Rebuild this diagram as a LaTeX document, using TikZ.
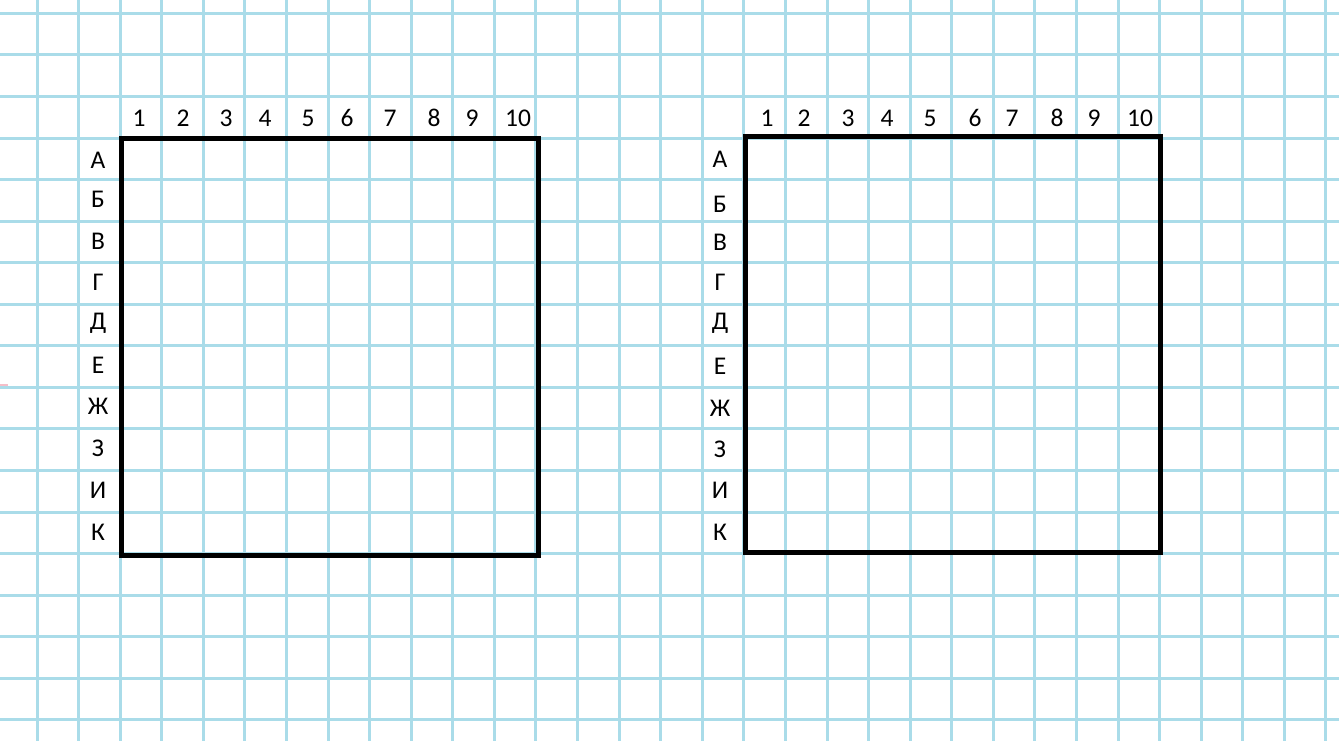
\documentclass[tikz,border=0pt]{standalone}
\usepackage{fontspec}
\setmainfont{Carlito}
\definecolor{gridblue}{RGB}{170,220,233}
\definecolor{marginpink}{RGB}{245,190,200}
\begin{document}
\begin{tikzpicture}[x=1pt,y=-1pt,
  gridline/.style={draw=gridblue,line width=3pt},
  framebox/.style={draw=black,line width=5pt},
  lab/.style={inner sep=0pt,font=\fontsize{25.5}{26}\selectfont}]
\useasboundingbox (0,0) rectangle (1339,741);
\fill[white] (0,0) rectangle (1339,741);
% pink margin remnants
\draw[marginpink,line width=3pt] (0,385) -- (8,385);
\draw[marginpink,line width=2pt] (0,428) -- (6,428);
% grid
\foreach \k in {0,...,31}{
  \draw[gridline] ({37+41.58*\k},0) -- ({37+41.58*\k},741);
}
\foreach \j in {0,...,17}{
  \draw[gridline] (0,{13.4+41.55*\j}) -- (1339,{13.4+41.55*\j});
}
% boxes
\coordinate (L1) at (121,139);
\coordinate (L2) at (538,555);
\coordinate (R1) at (745,137);
\coordinate (R2) at (1160,552);
\draw[framebox] (L1) rectangle (L2);
\draw[framebox] (R1) rectangle (R2);
% column labels left
\foreach \n/\x in {1/139,2/183,3/226,4/265,5/308,6/347,7/390,8/434,9/472,10/518}{
  \node[lab] (Lc\n) at (\x,118) {\n};
}
% column labels right
\foreach \n/\x in {1/767,2/804,3/848,4/887,5/930,6/975,7/1012,8/1057,9/1094,10/1140}{
  \node[lab] (Rc\n) at (\x,118) {\n};
}
% row labels left
\foreach \i/\t/\y in {1/А/160,2/Б/199,3/В/241,4/Г/282,5/Д/323,6/Е/365,7/Ж/406,8/З/448,9/И/490,10/К/532}{
  \node[lab] (Lr\i) at (98,\y) {\t};
}
% row labels right
\foreach \i/\t/\y in {1/А/159,2/Б/204,3/В/242,4/Г/282,5/Д/323,6/Е/366,7/Ж/408,8/З/449,9/И/490,10/К/532}{
  \node[lab] (Rr\i) at (720,\y) {\t};
}
\end{tikzpicture}
\end{document}
